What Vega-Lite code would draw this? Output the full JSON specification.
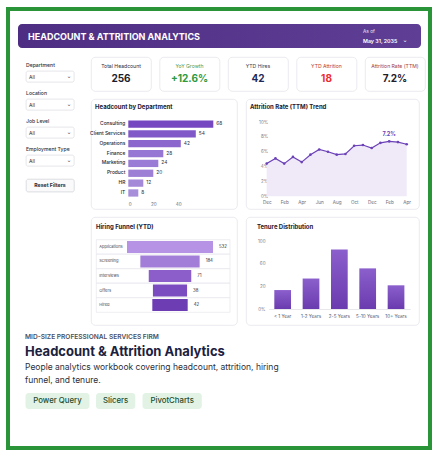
{
  "$schema": "https://vega.github.io/schema/vega-lite/v6.json",
  "background": "#ffffff",
  "padding": {"left": 6, "top": 7, "right": 6, "bottom": 7},
  "config": {
    "font": "Inter",
    "view": {"stroke": null},
    "text": {"font": "Inter"},
    "axis": {"labelFont": "Inter"},
    "title": {"font": "Inter", "subtitleFont": "Inter"}
  },
  "spacing": 0,
  "vconcat": [
    {"width": 426, "height": 4, "data": {"values": []}, "mark": "text", "view": {"fill": "#2a9438", "stroke": null}},
    {
      "spacing": 0,
      "hconcat": [
        {"width": 4, "height": 435, "data": {"values": []}, "mark": "text", "view": {"fill": "#2a9438", "stroke": null}},
        {
          "spacing": 0,
          "vconcat": [
            {"width": 418, "height": 13, "data": {"values": []}, "mark": "text"},
            {
              "spacing": 0,
              "hconcat": [
                {"width": 8, "height": 1, "data": {"values": []}, "mark": "text"},
                {
                  "spacing": 0,
                  "vconcat": [
                    {
                      "width": 403,
                      "height": 24,
                      "view": {"fill": {"gradient": "linear", "x1": 0, "y1": 0, "x2": 1, "y2": 0, "stops": [{"offset": 0, "color": "#4d2e83"}, {"offset": 1, "color": "#5f3f95"}]}, "stroke": null, "cornerRadius": 4},
                      "data": {"values": [{"title": "HEADCOUNT & ATTRITION ANALYTICS", "asof": "As of", "date": "May 31, 2035"}]},
                      "encoding": {"x": {"datum": 0, "type": "quantitative", "scale": {"domain": [0, 1], "nice": false}, "axis": null}},
                      "layer": [
                        {"mark": {"type": "text", "align": "left", "dx": 10, "dy": 0.7, "fontSize": 9, "fontWeight": "bold", "color": "#ffffff"}, "encoding": {"text": {"field": "title"}}},
                        {"mark": {"type": "text", "align": "left", "dx": -58, "dy": -4, "fontSize": 4.8, "color": "#e9e2f5"}, "encoding": {"x": {"datum": 1, "type": "quantitative"}, "text": {"field": "asof"}}},
                        {"mark": {"type": "text", "align": "left", "dx": -58, "dy": 5, "fontSize": 5.3, "fontWeight": 600, "color": "#ffffff"}, "encoding": {"x": {"datum": 1, "type": "quantitative"}, "text": {"field": "date"}}},
                        {"mark": {"type": "text", "align": "center", "dx": -16, "dy": 3.5, "fontSize": 6, "font": "DejaVu Sans", "color": "#ffffff"}, "encoding": {"x": {"datum": 1, "type": "quantitative"}, "text": {"value": "⌄"}}}
                      ]
                    },
                    {
                      "spacing": 0,
                      "hconcat": [
                        {"width": 7, "height": 1, "data": {"values": []}, "mark": "text"},
                        {
                          "spacing": 0,
                          "vconcat": [
                            {"width": 48, "height": 14, "data": {"values": []}, "mark": "text"},
                            {
                              "spacing": 11,
                              "vconcat": [
                                {
                                  "data": {"values": [
                                    {"filter": "Department", "value": "All"},
                                    {"filter": "Location", "value": "All"},
                                    {"filter": "Job Level", "value": "All"},
                                    {"filter": "Employment Type", "value": "All"}
                                  ]},
                                  "facet": {"field": "filter", "type": "nominal", "sort": ["Department", "Location", "Job Level", "Employment Type"], "header": {"title": null, "labelAnchor": "start", "labelFontSize": 5.1, "labelColor": "#2d3040", "labelPadding": 3, "labelFont": "Inter", "labelFontWeight": 500}},
                                  "columns": 1,
                                  "spacing": 7,
                                  "spec": {
                                    "width": 48,
                                    "height": 11,
                                    "view": {"fill": "#ffffff", "stroke": "#d5d5dc", "strokeWidth": 0.6, "cornerRadius": 2},
                                    "encoding": {"x": {"datum": 0, "type": "quantitative", "scale": {"domain": [0, 1], "nice": false}, "axis": null}},
                                    "layer": [
                                      {"mark": {"type": "text", "align": "left", "dx": 3, "fontSize": 5, "color": "#2b2e3a"}, "encoding": {"text": {"field": "value"}}},
                                      {"mark": {"type": "text", "align": "center", "dx": -5, "dy": -0.5, "fontSize": 6, "font": "DejaVu Sans", "color": "#555"}, "encoding": {"x": {"datum": 1, "type": "quantitative"}, "text": {"value": "⌄"}}}
                                    ]
                                  }
                                },
                                {
                                  "width": 48,
                                  "height": 12.7,
                                  "view": {"fill": "#fafafb", "stroke": "#cfd0d6", "strokeWidth": 0.7, "cornerRadius": 2},
                                  "data": {"values": [{"action": "Reset Filters"}]},
                                  "mark": {"type": "text", "fontSize": 5.2, "fontWeight": "bold", "color": "#2b2e3a"},
                                  "encoding": {"text": {"field": "action"}}
                                }
                              ]
                            }
                          ]
                        },
                        {"width": 14, "height": 1, "data": {"values": []}, "mark": "text"},
                        {
                          "spacing": 6,
                          "vconcat": [
                            {"width": 326, "height": 2, "data": {"values": []}, "mark": "text"},
                            {
                              "spacing": 6.5,
                              "hconcat": [
                                {
                                  "width": 60, "height": 34,
                                  "view": {"fill": "#ffffff", "stroke": "#e6e6ec", "strokeWidth": 0.8, "cornerRadius": 4},
                                  "data": {"values": [{"metric": "Total Headcount", "value": "256"}]},
                                  "layer": [
                                    {"mark": {"type": "text", "dy": -8, "fontSize": 5.1, "color": "#2b2e3a"}, "encoding": {"text": {"field": "metric"}}},
                                    {"mark": {"type": "text", "dy": 5, "fontSize": 10, "fontWeight": "bold", "color": "#1b1e2c"}, "encoding": {"text": {"field": "value"}}}
                                  ]
                                },
                                {
                                  "width": 60, "height": 34,
                                  "view": {"fill": "#ffffff", "stroke": "#e6e6ec", "strokeWidth": 0.8, "cornerRadius": 4},
                                  "data": {"values": [{"metric": "YoY Growth", "value": "+12.6%"}]},
                                  "layer": [
                                    {"mark": {"type": "text", "dy": -8, "fontSize": 5.1, "color": "#4a9a55"}, "encoding": {"text": {"field": "metric"}}},
                                    {"mark": {"type": "text", "dy": 5, "fontSize": 10, "fontWeight": "bold", "color": "#2e9a3e"}, "encoding": {"text": {"field": "value"}}}
                                  ]
                                },
                                {
                                  "width": 60, "height": 34,
                                  "view": {"fill": "#ffffff", "stroke": "#e6e6ec", "strokeWidth": 0.8, "cornerRadius": 4},
                                  "data": {"values": [{"metric": "YTD Hires", "value": "42"}]},
                                  "layer": [
                                    {"mark": {"type": "text", "dy": -8, "fontSize": 5.1, "color": "#3a3e4e"}, "encoding": {"text": {"field": "metric"}}},
                                    {"mark": {"type": "text", "dy": 5, "fontSize": 10, "fontWeight": "bold", "color": "#1f2a5a"}, "encoding": {"text": {"field": "value"}}}
                                  ]
                                },
                                {
                                  "width": 60, "height": 34,
                                  "view": {"fill": "#ffffff", "stroke": "#e6e6ec", "strokeWidth": 0.8, "cornerRadius": 4},
                                  "data": {"values": [{"metric": "YTD Attrition", "value": "18"}]},
                                  "layer": [
                                    {"mark": {"type": "text", "dy": -8, "fontSize": 5.1, "color": "#c0392b"}, "encoding": {"text": {"field": "metric"}}},
                                    {"mark": {"type": "text", "dy": 5, "fontSize": 10, "fontWeight": "bold", "color": "#ee2b2b"}, "encoding": {"text": {"field": "value"}}}
                                  ]
                                },
                                {
                                  "width": 60, "height": 34,
                                  "view": {"fill": "#ffffff", "stroke": "#e6e6ec", "strokeWidth": 0.8, "cornerRadius": 4},
                                  "data": {"values": [{"metric": "Attrition Rate (TTM)", "value": "7.2%"}]},
                                  "layer": [
                                    {"mark": {"type": "text", "dy": -8, "fontSize": 5.1, "color": "#a53a3a"}, "encoding": {"text": {"field": "metric"}}},
                                    {"mark": {"type": "text", "dy": 5, "fontSize": 10, "fontWeight": "bold", "color": "#1f2027"}, "encoding": {"text": {"field": "value"}}}
                                  ]
                                }
                              ]
                            },
                            {
                              "spacing": 7,
                              "hconcat": [
                                {
                                  "width": 146,
                                  "height": 110,
                                  "view": {"fill": "#ffffff", "stroke": "#e6e6ec", "strokeWidth": 0.8, "cornerRadius": 4},
                                  "title": {"text": "Headcount by Department", "anchor": "start", "offset": -11, "dx": 5, "fontSize": 6, "fontWeight": "bold", "color": "#1d2030"},
                                  "data": {"values": [
                                    {"dept": "Consulting", "count": 68},
                                    {"dept": "Client Services", "count": 54},
                                    {"dept": "Operations", "count": 42},
                                    {"dept": "Finance", "count": 28},
                                    {"dept": "Marketing", "count": 24},
                                    {"dept": "Product", "count": 20},
                                    {"dept": "HR", "count": 12},
                                    {"dept": "IT", "count": 8}
                                  ]},
                                  "encoding": {"y": {"field": "dept", "type": "nominal", "sort": null, "scale": {"range": [20.1, 98.9], "paddingInner": 0.26, "paddingOuter": 0.13}, "axis": null}},
                                  "layer": [
                                    {"mark": {"type": "bar"}, "encoding": {
                                      "x": {"field": "count", "type": "quantitative", "scale": {"domain": [0, 72], "range": [37.3, 127.3], "nice": false}, "axis": {"values": [0, 20, 40], "title": null, "domain": false, "ticks": false, "tickSize": 0, "grid": false, "labelFontSize": 4.6, "labelColor": "#666a78", "labelPadding": 2, "offset": -9.5}},
                                      "color": {"field": "count", "type": "quantitative", "scale": {"range": ["#a78edb", "#7547c1"]}, "legend": null}
                                    }},
                                    {"mark": {"type": "text", "align": "left", "dx": 3, "fontSize": 4.8, "color": "#2b2e3a"}, "encoding": {"x": {"field": "count", "type": "quantitative"}, "text": {"field": "count"}}},
                                    {"mark": {"type": "text", "align": "right", "dx": -3, "fontSize": 4.9, "fontWeight": 500, "color": "#22252f"}, "encoding": {"x": {"datum": 0, "type": "quantitative"}, "text": {"field": "dept"}}}
                                  ]
                                },
                                {
                                  "width": 173,
                                  "height": 110,
                                  "view": {"fill": "#ffffff", "stroke": "#e6e6ec", "strokeWidth": 0.8, "cornerRadius": 4},
                                  "title": {"text": "Attrition Rate (TTM) Trend", "anchor": "start", "offset": -11, "dx": 4, "fontSize": 6, "fontWeight": "bold", "color": "#1d2030"},
                                  "data": {"values": [
                                    {"period": "Dec 2033", "rate": 4.4},
                                    {"period": "Jan 2034", "rate": 5.1},
                                    {"period": "Feb 2034", "rate": 4.4},
                                    {"period": "Mar 2034", "rate": 5.3},
                                    {"period": "Apr 2034", "rate": 4.6},
                                    {"period": "May 2034", "rate": 5.6},
                                    {"period": "Jun 2034", "rate": 6.3},
                                    {"period": "Jul 2034", "rate": 6.0},
                                    {"period": "Aug 2034", "rate": 5.6},
                                    {"period": "Sep 2034", "rate": 5.7},
                                    {"period": "Oct 2034", "rate": 6.8},
                                    {"period": "Nov 2034", "rate": 6.9},
                                    {"period": "Dec 2034", "rate": 6.5},
                                    {"period": "Jan 2035", "rate": 7.2},
                                    {"period": "Feb 2035", "rate": 7.4, "note": "7.2%"},
                                    {"period": "Mar 2035", "rate": 7.3},
                                    {"period": "Apr 2035", "rate": 7.0}
                                  ]},
                                  "encoding": {
                                    "x": {"field": "period", "type": "ordinal", "sort": null, "scale": {"type": "point", "range": [20.7, 160.7], "padding": 0}, "axis": {"values": ["Dec 2033", "Feb 2034", "Apr 2034", "Jun 2034", "Aug 2034", "Oct 2034", "Dec 2034", "Feb 2035", "Apr 2035"], "labelExpr": "slice(datum.label, 0, 3)", "title": null, "domain": false, "ticks": false, "tickSize": 0, "labelAngle": 0, "labelFontSize": 4.6, "labelColor": "#666a78", "labelPadding": 2, "offset": -11.8}},
                                    "y": {"field": "rate", "type": "quantitative", "scale": {"domain": [0, 10], "range": [97.3, 23], "nice": false}, "axis": {"values": [0, 2, 4, 6, 8, 10], "labelExpr": "datum.value + '%'", "title": null, "domain": false, "ticks": false, "tickSize": 0, "grid": false, "labelFontSize": 4.5, "labelColor": "#777b88", "labelPadding": 2, "offset": -23.7}}
                                  },
                                  "layer": [
                                    {"mark": {"type": "area", "color": "#efe9f8", "opacity": 1}},
                                    {"mark": {"type": "line", "color": "#6c42b8", "strokeWidth": 1.2}},
                                    {"mark": {"type": "point", "filled": true, "size": 7, "color": "#6c42b8", "opacity": 1}},
                                    {"transform": [{"filter": "datum.note != null"}], "mark": {"type": "text", "dy": -7, "fontSize": 5.5, "fontWeight": "bold", "color": "#6c42b8"}, "encoding": {"text": {"field": "note"}}}
                                  ]
                                }
                              ]
                            },
                            {
                              "spacing": 7,
                              "hconcat": [
                                {
                                  "width": 146,
                                  "height": 108,
                                  "view": {"fill": "#ffffff", "stroke": "#e6e6ec", "strokeWidth": 0.8, "cornerRadius": 4},
                                  "title": {"text": "Hiring Funnel (YTD)", "anchor": "start", "offset": -13, "dx": 5, "fontSize": 6, "fontWeight": "bold", "color": "#1d2030"},
                                  "data": {"values": [
                                    {"stage": "Applications", "count": 532},
                                    {"stage": "Screening", "count": 184},
                                    {"stage": "Interviews", "count": 71},
                                    {"stage": "Offers", "count": 38},
                                    {"stage": "Hired", "count": 42}
                                  ]},
                                  "encoding": {"y": {"field": "stage", "type": "nominal", "sort": null, "scale": {"range": [22.7, 95.3], "paddingInner": 0, "paddingOuter": 0}, "axis": null}},
                                  "layer": [
                                    {
                                      "encoding": {"x": {"datum": 0, "type": "quantitative", "scale": {"domain": [0, 1], "range": [5.3, 139], "nice": false}, "axis": null}},
                                      "layer": [
                                        {"mark": {"type": "rect", "fill": "#ffffff", "stroke": "#e3e3ea", "strokeWidth": 0.6}, "encoding": {"x2": {"datum": 1}}},
                                        {"mark": {"type": "text", "align": "left", "dx": 3, "fontSize": 4, "color": "#3a3d4a"}, "encoding": {"text": {"field": "stage"}}}
                                      ]
                                    },
                                    {
                                      "encoding": {"x": {"field": "count", "type": "quantitative", "scale": {"type": "pow", "exponent": 0.35, "domain": [0, 532], "range": [79, 122], "nice": false}, "axis": null}},
                                      "layer": [
                                        {"mark": {"type": "tick", "orient": "horizontal", "thickness": 12, "opacity": 1}, "encoding": {
                                          "x": {"datum": 0, "type": "quantitative"},
                                          "size": {"field": "count", "type": "quantitative", "scale": {"type": "pow", "exponent": 0.35, "domain": [0, 532], "range": [0, 86]}, "legend": null},
                                          "color": {"field": "stage", "type": "nominal", "scale": {"domain": ["Applications", "Screening", "Interviews", "Offers", "Hired"], "range": ["#b693e4", "#a37ed8", "#8b5ec9", "#7a4cbf", "#6c3db3"]}, "legend": null}
                                        }},
                                        {"mark": {"type": "text", "align": "left", "dx": 6, "fontSize": 4.3, "color": "#2b2e3a"}, "encoding": {"text": {"field": "count"}}}
                                      ]
                                    }
                                  ],
                                  "resolve": {"scale": {"x": "independent"}}
                                },
                                {
                                  "width": 173,
                                  "height": 108,
                                  "view": {"fill": "#ffffff", "stroke": "#e6e6ec", "strokeWidth": 0.8, "cornerRadius": 4},
                                  "title": {"text": "Tenure Distribution", "anchor": "start", "offset": -13, "dx": 11, "fontSize": 6, "fontWeight": "bold", "color": "#1d2030"},
                                  "data": {"values": [
                                    {"tenure": "< 1 Year", "count": 28},
                                    {"tenure": "1-2 Years", "count": 45},
                                    {"tenure": "2-5 Years", "count": 88},
                                    {"tenure": "5-10 Years", "count": 60},
                                    {"tenure": "10+ Years", "count": 35}
                                  ]},
                                  "mark": {"type": "bar", "color": {"gradient": "linear", "x1": 0, "y1": 0, "x2": 0, "y2": 1, "stops": [{"offset": 0, "color": "#8b5fcc"}, {"offset": 1, "color": "#6a3bae"}]}},
                                  "encoding": {
                                    "x": {"field": "tenure", "type": "nominal", "sort": null, "scale": {"range": [22.5, 164.2], "paddingInner": 0.41, "paddingOuter": 0.205}, "axis": {"title": null, "labelAngle": 0, "ticks": false, "tickSize": 0, "domain": true, "domainColor": "#d8d8de", "domainWidth": 0.6, "labelFontSize": 4.6, "labelColor": "#55596a", "labelPadding": 4, "offset": -16}},
                                    "y": {"field": "count", "type": "quantitative", "scale": {"domain": [0, 100], "range": [92, 24.3], "nice": false}, "axis": {"values": [0, 33.33, 66.67, 100], "labelExpr": "datum.value == 0 ? '0%' : datum.value < 50 ? '20' : datum.value < 90 ? '60' : '100'", "title": null, "domain": false, "ticks": false, "tickSize": 0, "grid": false, "labelFontSize": 4.5, "labelColor": "#777b88", "labelPadding": 2, "offset": -21}}
                                  }
                                }
                              ]
                            }
                          ]
                        }
                      ]
                    }
                  ]
                }
              ]
            },
            {
              "spacing": 0,
              "vconcat": [
                {"width": 418, "height": 8, "data": {"values": []}, "mark": "text"},
                {
                  "width": 418,
                  "height": 14,
                  "data": {"values": [{"desc": "People analytics workbook covering headcount, attrition, hiring\nfunnel, and tenure."}]},
                  "title": {"text": "MID-SIZE PROFESSIONAL SERVICES FIRM", "subtitle": "Headcount & Attrition Analytics", "anchor": "start", "dx": 15, "offset": 1, "fontSize": 6.6, "fontWeight": 600, "color": "#4b5060", "subtitleFontSize": 13, "subtitleFontWeight": "bold", "subtitleColor": "#1b2140", "subtitlePadding": 5},
                  "mark": {"type": "text", "align": "left", "baseline": "middle", "dx": 15, "lineBreak": "\n", "lineHeight": 12.7, "fontSize": 8.5, "color": "#2b2f3b"},
                  "encoding": {"x": {"datum": 0, "type": "quantitative", "scale": {"domain": [0, 1], "nice": false}, "axis": null}, "text": {"field": "desc"}}
                },
                {"width": 418, "height": 8, "data": {"values": []}, "mark": "text"},
                {
                  "spacing": 6.5,
                  "hconcat": [
                    {"width": 8.5, "height": 16, "data": {"values": []}, "mark": "text"},
                    {"width": 64, "height": 16, "data": {"values": [{"tag": "Power Query"}]}, "view": {"fill": "#e2f3e5", "stroke": null, "cornerRadius": 3}, "mark": {"type": "text", "fontSize": 7.8, "fontWeight": 500, "color": "#234b2d"}, "encoding": {"text": {"field": "tag"}}},
                    {"width": 39.3, "height": 16, "data": {"values": [{"tag": "Slicers"}]}, "view": {"fill": "#e2f3e5", "stroke": null, "cornerRadius": 3}, "mark": {"type": "text", "fontSize": 7.8, "fontWeight": 500, "color": "#234b2d"}, "encoding": {"text": {"field": "tag"}}},
                    {"width": 59.3, "height": 16, "data": {"values": [{"tag": "PivotCharts"}]}, "view": {"fill": "#e2f3e5", "stroke": null, "cornerRadius": 3}, "mark": {"type": "text", "fontSize": 7.8, "fontWeight": 500, "color": "#234b2d"}, "encoding": {"text": {"field": "tag"}}}
                  ]
                }
              ]
            }
          ]
        },
        {"width": 4, "height": 435, "data": {"values": []}, "mark": "text", "view": {"fill": "#2a9438", "stroke": null}}
      ]
    },
    {"width": 426, "height": 4, "data": {"values": []}, "mark": "text", "view": {"fill": "#2a9438", "stroke": null}}
  ]
}
